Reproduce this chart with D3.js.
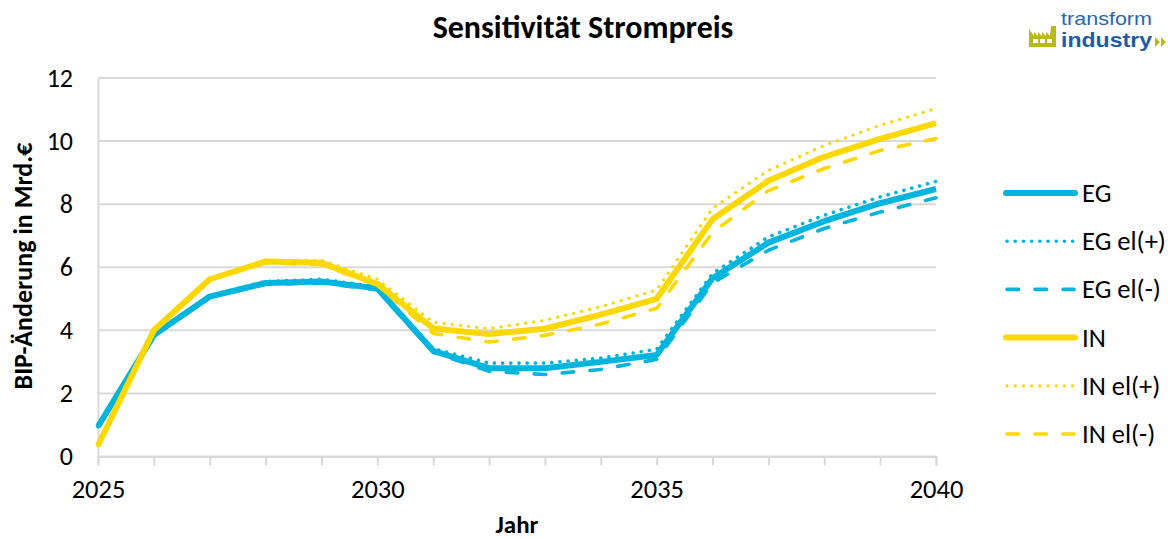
<!DOCTYPE html>
<html><head><meta charset="utf-8">
<script src="https://cdn.jsdelivr.net/npm/d3@7"></script>
<style>html,body{margin:0;padding:0;background:#fff;overflow:hidden}svg{display:block}text{font-family:Carlito,Lato,"Open Sans",sans-serif;fill:#000}</style>
</head><body><svg id="c" width="1168" height="539"></svg>
<script>
const years=[2025,2026,2027,2028,2029,2030,2031,2032,2033,2034,2035,2036,2037,2038,2039,2040];
const eg=[0.95,3.85,5.07,5.5,5.55,5.33,3.35,2.8,2.8,3.0,3.22,5.65,6.78,7.46,8.03,8.48];
const egPlus=[0.95,3.87,5.1,5.55,5.62,5.38,3.42,2.96,2.96,3.12,3.4,5.8,6.96,7.65,8.23,8.72];
const egMinus=[0.95,3.83,5.05,5.46,5.5,5.28,3.3,2.7,2.6,2.76,3.08,5.5,6.54,7.23,7.75,8.2];
const inBase=[0.35,4.0,5.62,6.18,6.14,5.47,4.06,3.88,4.05,4.5,5.0,7.52,8.74,9.5,10.07,10.57];
const inPlus=[0.35,4.0,5.63,6.23,6.22,5.62,4.26,4.05,4.32,4.75,5.28,7.87,9.07,9.86,10.5,11.03];
const inMinus=[0.35,4.0,5.6,6.14,6.08,5.42,3.9,3.63,3.84,4.2,4.7,7.1,8.43,9.13,9.7,10.08];
const yTicks=[0,2,4,6,8,10,12];
const xLabels=[2025,2030,2035,2040];
const names=["EG","EG el(+)","EG el(-)","IN","IN el(+)","IN el(-)"];
const seriesValues=[eg,egPlus,egMinus,inBase,inPlus,inMinus];
const BLUE="#00B5DD",YEL="#FBD800",GRID="#D9D9D9";
const styles=[[BLUE,6,null],[BLUE,3.6,"0.1 8.1"],[BLUE,3.6,"11.5 16.5"],[YEL,6,null],[YEL,3.2,"0.1 8.1"],[YEL,3.6,"11.5 16.5"]];
const svg=d3.select("#c");
const x=d3.scaleLinear().domain([2025,2040]).range([98,936]);
const y=d3.scaleLinear().domain([0,12]).range([456.5,78]);

svg.append("g").selectAll("line").data(yTicks).join("line")
 .attr("x1",x(2025)).attr("x2",x(2040)).attr("y1",d=>y(d)).attr("y2",d=>y(d))
 .attr("stroke",GRID).attr("stroke-width",2);
const ay=svg.append("g").attr("transform",`translate(${x(2025)},0)`)
 .call(d3.axisLeft(y).tickValues(yTicks).tickSize(0).tickPadding(25));
ay.select(".domain").attr("stroke",GRID).attr("stroke-width",2);
ay.selectAll("text").style("font-size","26px").attr("fill","#000");
const ax=svg.append("g").attr("transform",`translate(0,${y(0)})`)
 .call(d3.axisBottom(x).tickValues(years).tickSize(9).tickPadding(14)
 .tickFormat(d=>xLabels.includes(d)?d:""));
ax.select(".domain").attr("stroke",GRID).attr("stroke-width",2);
ax.selectAll("line").attr("stroke",GRID).attr("stroke-width",2);
ax.selectAll("text").style("font-size","26.5px").attr("fill","#000");

const line=d3.line().x((d,i)=>x(years[i])).y(d=>y(d));
[1,2,4,5,0,3].forEach(i=>{
 svg.append("path").datum(seriesValues[i]).attr("d",line).attr("fill","none")
  .attr("stroke",styles[i][0]).attr("stroke-width",styles[i][1])
  .attr("stroke-dasharray",styles[i][2]).attr("stroke-linecap",styles[i][2]?"round":"butt")
  .attr("stroke-linejoin","round");
});

svg.append("text").attr("x",583).attr("y",38).attr("text-anchor","middle")
 .style("font-size","32px").style("font-weight","700").text("Sensitivität Strompreis");
svg.append("text").attr("x",517).attr("y",533).attr("text-anchor","middle")
 .style("font-size","25px").style("font-weight","700").text("Jahr");
svg.append("text").attr("transform","translate(32,266) rotate(-90)").attr("text-anchor","middle")
 .style("font-size","26px").style("font-weight","700").text("BIP-Änderung in Mrd.€");

const ly=d3.scalePoint().domain(names).range([193,434]);
const lg=svg.append("g").selectAll("g").data(names).join("g").attr("transform",d=>`translate(0,${ly(d)})`);
lg.append("line").attr("x1",(d,i)=>i%3==0?1006:1007).attr("x2",(d,i)=>i%3==0?1075:1074).attr("y1",0).attr("y2",0)
 .attr("stroke",(d,i)=>styles[i][0]).attr("stroke-width",(d,i)=>styles[i][1])
 .attr("stroke-dasharray",(d,i)=>styles[i][2]).attr("stroke-linecap","round");
lg.append("text").attr("x",1082).attr("y",9).style("font-size","26.5px").text(d=>d);

const logo=svg.append("g");
logo.append("text").attr("x",1061).attr("y",24.5).style("fill","#2a66ad")
 .style("font-size","19px").style("font-family","'Liberation Sans',sans-serif")
 .attr("textLength",91).attr("lengthAdjust","spacingAndGlyphs").text("transform");
logo.append("text").attr("x",1061).attr("y",47).style("fill","#1c5ca8")
 .style("font-size","20px").style("font-weight","700").style("font-family","'Liberation Sans',sans-serif")
 .attr("textLength",91).attr("lengthAdjust","spacingAndGlyphs").text("industry");
logo.append("path").attr("fill","#B9BA12")
 .attr("d","M1029 29 L1029 47 L1056 47 L1056 26 L1051 26 L1050 36 L1046 32 L1046 36 L1042 32 L1042 36 L1038 32 L1038 36 L1034 32 L1034 36 Z");
logo.selectAll("rect").data([0,1,2]).join("rect").attr("x",d=>1033+d*7).attr("y",39).attr("width",5).attr("height",4).attr("fill","#fff");
logo.append("path").attr("fill","#B9BA12").attr("d","M1155 37 L1160 42 L1155 47 Z M1161 37 L1166 42 L1161 47 Z");
</script></body></html>
